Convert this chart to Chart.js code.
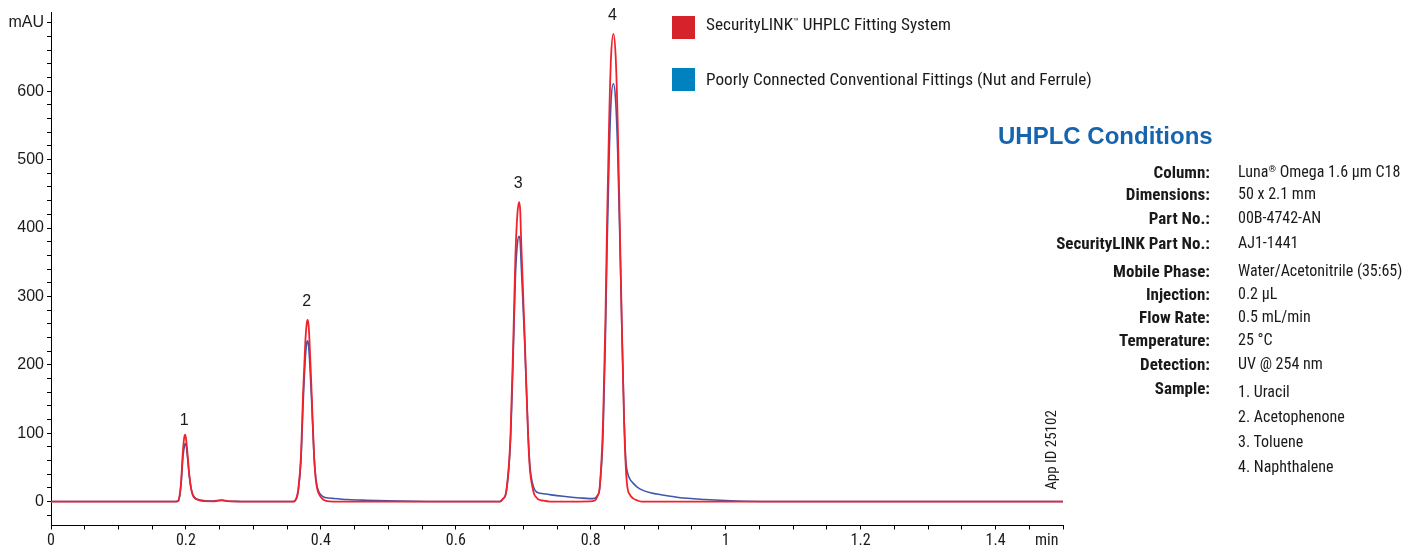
<!DOCTYPE html>
<html>
<head>
<meta charset="utf-8">
<script src="https://cdn.jsdelivr.net/npm/chart.js@4"></script>
<style>
  body { margin: 0; background: #fff; }
  #wrap {
    position: relative; width: 1424px; height: 553px; overflow: hidden;
    font-family: "Liberation Sans Narrow", "Roboto Condensed", "DejaVu Sans Condensed", "Liberation Sans", sans-serif;
    color: #1a1a1a;
  }
  canvas { position: absolute; left: 0; top: 0; }
  sup { font-size: 0.6em; vertical-align: 0.5em; line-height: 0; }
  .sw { position: absolute; left: 672px; width: 23px; height: 23px; }
  .lg { position: absolute; left: 706px; font-size: 17.2px; line-height: 20px; white-space: nowrap; }
  .title {
    position: absolute; left: 998px; top: 122px; line-height: 30px; white-space: nowrap;
    font: bold 24px "Liberation Sans", Arial, sans-serif; color: #1764ae;
  }
  .k { position: absolute; right: 214px; font-weight: bold; font-size: 17px; line-height: 20px; white-space: nowrap; text-align: right; }
  .v { position: absolute; left: 1238px; font-size: 16px; line-height: 20px; white-space: nowrap; }
  .appid {
    position: absolute; left: 1001px; top: 441px; width: 100px; height: 18px;
    font-size: 15px; line-height: 18px; text-align: center; white-space: nowrap;
    transform: rotate(-90deg);
  }
</style>
</head>
<body>
<div id="wrap">
  <canvas id="chart" width="1424" height="553"></canvas>

  <div class="sw" style="top:16px;background:#d6232b"></div>
  <div class="lg" style="top:14px">SecurityLINK<sup>™</sup> UHPLC Fitting System</div>
  <div class="sw" style="top:68px;background:#0082c0"></div>
  <div class="lg" style="top:69px">Poorly Connected Conventional Fittings (Nut and Ferrule)</div>

  <div class="title">UHPLC Conditions</div>
  <div class="k" style="top:162px">Column:</div>
  <div class="v" style="top:162px">Luna<sup>®</sup> Omega 1.6 µm C18</div>
  <div class="k" style="top:184px">Dimensions:</div>
  <div class="v" style="top:184px">50 x 2.1 mm</div>
  <div class="k" style="top:208px">Part No.:</div>
  <div class="v" style="top:208px">00B-4742-AN</div>
  <div class="k" style="top:233px">SecurityLINK Part No.:</div>
  <div class="v" style="top:233px">AJ1-1441</div>
  <div class="k" style="top:261px">Mobile Phase:</div>
  <div class="v" style="top:261px">Water/Acetonitrile (35:65)</div>
  <div class="k" style="top:284px">Injection:</div>
  <div class="v" style="top:284px">0.2 µL</div>
  <div class="k" style="top:307px">Flow Rate:</div>
  <div class="v" style="top:307px">0.5 mL/min</div>
  <div class="k" style="top:330px">Temperature:</div>
  <div class="v" style="top:330px">25 °C</div>
  <div class="k" style="top:354px">Detection:</div>
  <div class="v" style="top:354px">UV @ 254 nm</div>
  <div class="k" style="top:378px">Sample:</div>
  <div class="v" style="top:382px">1. Uracil</div>
  <div class="v" style="top:407px">2. Acetophenone</div>
  <div class="v" style="top:432px">3. Toluene</div>
  <div class="v" style="top:457px">4. Naphthalene</div>

  <div class="appid">App ID 25102</div>
</div>

<script>
  const RED = "#f0222c";
  const BLUE = "#3d57ab";

  // retention time (min)
  const retentionMin = [
    0.000, 0.185, 0.1886, 0.1905, 0.1926, 0.1956, 0.1975, 0.1988, 0.2000, 0.2020,
    0.2049, 0.2075, 0.2099, 0.2130, 0.2180, 0.2280, 0.2400, 0.2528, 0.2620, 0.2800,
    0.3590, 0.3615, 0.3640, 0.3664, 0.3704, 0.3738, 0.3770, 0.3790, 0.3803, 0.3818,
    0.3832, 0.3862, 0.3900, 0.3925, 0.3950, 0.3990, 0.4034, 0.4080, 0.4180, 0.4400,
    0.4677, 0.5170, 0.5600, 0.6650, 0.6700, 0.6750, 0.6810, 0.6853, 0.6884, 0.6914,
    0.6938, 0.6955, 0.6968, 0.7022, 0.7072, 0.7100, 0.7136, 0.7165, 0.7195, 0.7220,
    0.7300, 0.7390, 0.7590, 0.7837, 0.7985, 0.8060, 0.8100, 0.8133, 0.8183, 0.8217,
    0.8242, 0.8272, 0.8301, 0.8336, 0.8370, 0.8400, 0.8430, 0.8460, 0.8494, 0.8520,
    0.8543, 0.8580, 0.8627, 0.8680, 0.8750, 0.8900, 0.9040, 0.9300, 0.9700, 1.0000,
    1.0300, 1.0800, 1.5000
  ];

  // SecurityLINK UHPLC fitting system (mAU)
  const securityLinkMau = [
    0, 0, 1, 8, 26, 75, 94, 98, 93, 74,
    40, 20, 10, 5, 2.4, 0.5, 0.3, 1.8, 0.5, 0,
    0, 1, 6, 17, 65, 162, 234, 260, 265.5, 258,
    234, 162, 65, 32, 17, 8, 3, 1, 0, 0,
    0, 0, 0, 0, 4, 16.7, 94, 239, 360, 422,
    438, 425, 384, 239, 94, 45, 21, 10, 6, 3.5,
    1.2, 0, 0, 0, 0.2, 1.5, 8, 21, 118, 263,
    408, 553, 650, 684, 650, 553, 408, 263, 118, 50,
    21, 10, 4.6, 2, 0, 0, 0, 0, 0, 0,
    0, 0, 0
  ];

  // poorly connected conventional fittings (mAU)
  const conventionalMau = [
    0, 0, 1, 7, 23, 65, 80, 85, 84, 68,
    38, 20, 11, 6, 3, 1.2, 0.8, 2.2, 0.8, 0.2,
    0, 1, 5, 15, 58, 145, 210, 232, 235, 228,
    208, 150, 65, 34, 20, 11, 7, 5.5, 4.6, 3,
    2, 0.7, 0.2, 0, 4, 15, 88, 220, 330, 378,
    388, 380, 350, 230, 100, 50, 27, 18, 14.2, 13,
    11.5, 10.2, 7.7, 5.3, 4.3, 5, 9, 20, 100, 235,
    370, 500, 585, 611, 585, 510, 390, 260, 125, 60,
    43, 33, 27, 22, 17.5, 12.5, 10, 6, 3, 1.5,
    0.5, 0, 0
  ];

  const peakNames = ["1", "2", "3", "4"];
  const peakTimes = [0.1988, 0.3803, 0.6938, 0.8336];

  const xMajorTicks = [0, 0.2, 0.4, 0.6, 0.8, 1, 1.2, 1.4];
  const xMajorLabels = ["0", "0.2", "0.4", "0.6", "0.8", "1", "1.2", "1.4"];
  const xUnitLabel = "min";
  const yMajorTicks = [0, 100, 200, 300, 400, 500, 600];
  const yUnitLabel = "mAU";

  const X_UNIT_AT = 1.476;
  const Y_UNIT_AT = 700;

  function toPoints(values) {
    return retentionMin.map((t, i) => ({ x: t, y: values[i] }));
  }

  function labelFor(list, labels, value) {
    const i = list.findIndex((v) => Math.abs(v - value) < 1e-6);
    return i >= 0 ? labels[i] : "";
  }

  const peakLabelPlugin = {
    id: "peakLabels",
    afterDatasetsDraw(chart) {
      const { ctx, scales } = chart;
      ctx.save();
      ctx.fillStyle = "#1a1a1a";
      ctx.font = '16px "Liberation Sans", Arial, sans-serif';
      ctx.textAlign = "center";
      ctx.textBaseline = "bottom";
      peakTimes.forEach((t, i) => {
        const idx = retentionMin.indexOf(t);
        const top = Math.max(securityLinkMau[idx], conventionalMau[idx]);
        const gap = i === 0 ? 6 : 10;
        ctx.fillText(peakNames[i], scales.x.getPixelForValue(t) - 1, scales.y.getPixelForValue(top) - gap);
      });
      ctx.restore();
    },
  };

  const lineStyle = {
    pointRadius: 0,
    fill: false,
    cubicInterpolationMode: "monotone",
  };

  new Chart(document.getElementById("chart"), {
    type: "line",
    data: {
      datasets: [
        { label: "SecurityLINK UHPLC Fitting System", data: toPoints(securityLinkMau), borderColor: RED, borderWidth: 1.8, ...lineStyle },
        { label: "Poorly Connected Conventional Fittings (Nut and Ferrule)", data: toPoints(conventionalMau), borderColor: BLUE, borderWidth: 1.6, ...lineStyle },
      ],
    },
    options: {
      responsive: false,
      devicePixelRatio: 1,
      animation: false,
      layout: { padding: { top: 6, right: 361, left: 0, bottom: 0 } },
      plugins: { legend: { display: false }, tooltip: { enabled: false } },
      scales: {
        x: {
          type: "linear",
          min: 0,
          max: 1.5,
          afterBuildTicks(axis) {
            const ticks = [];
            for (let i = 0; i <= 30; i++) ticks.push({ value: Math.round(i * 5) / 100 });
            ticks.push({ value: X_UNIT_AT });
            ticks.sort((a, b) => a.value - b.value);
            axis.ticks = ticks;
          },
          afterFit(axis) { axis.height = 27.5; },
          border: { display: true, color: "#000", width: 1 },
          grid: {
            drawOnChartArea: false,
            drawTicks: true,
            tickLength: 4,
            tickColor: (c) => (c.tick && c.tick.value === X_UNIT_AT ? "rgba(0,0,0,0)" : "#000"),
          },
          ticks: {
            autoSkip: false,
            maxRotation: 0,
            padding: 2,
            color: "#1a1a1a",
            font: { family: '"Liberation Sans Narrow", "Roboto Condensed", "Liberation Sans", sans-serif', size: 16 },
            callback(value) {
              if (value === X_UNIT_AT) return xUnitLabel;
              return labelFor(xMajorTicks, xMajorLabels, value);
            },
          },
        },
        y: {
          type: "linear",
          min: -35,
          max: 715,
          afterBuildTicks(axis) {
            const ticks = [];
            for (let v = -20; v <= 700; v += 20) ticks.push({ value: v });
            axis.ticks = ticks;
          },
          afterFit(axis) { axis.width = 51; },
          border: { display: true, color: "#000", width: 1 },
          grid: { drawOnChartArea: false, drawTicks: true, tickLength: 4, color: "#000" },
          ticks: {
            autoSkip: false,
            padding: 3,
            color: "#1a1a1a",
            font: { family: '"Liberation Sans", Arial, sans-serif', size: 16 },
            callback(value) {
              if (value === Y_UNIT_AT) return yUnitLabel;
              return labelFor(yMajorTicks, yMajorTicks.map(String), value);
            },
          },
        },
      },
    },
    plugins: [peakLabelPlugin],
  });
</script>
</body>
</html>
